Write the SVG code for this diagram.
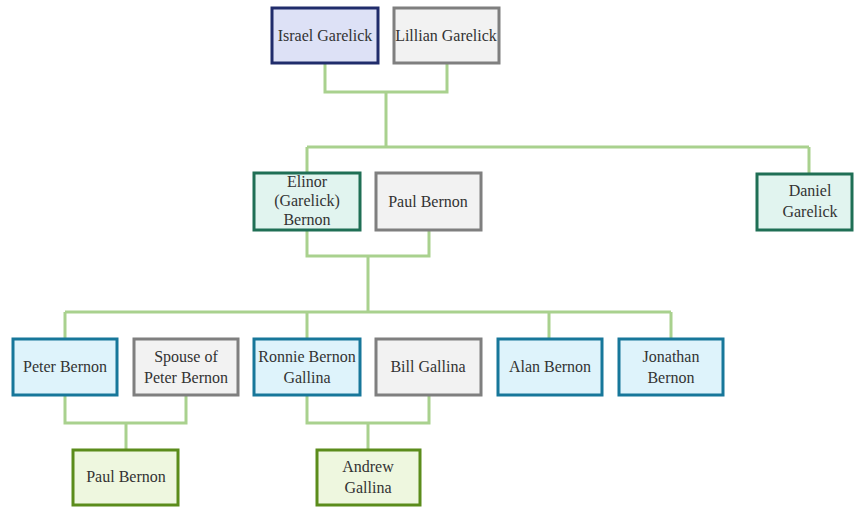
<svg xmlns="http://www.w3.org/2000/svg" width="855" height="508" viewBox="0 0 855 508">
<style>
rect{stroke-width:3}
.navy{fill:#dde1f6;stroke:#202c6b}
.grey{fill:#f2f2f2;stroke:#7f7f7f}
.teal{fill:#e1f4ef;stroke:#1f6f55}
.blue{fill:#def3fb;stroke:#17779a}
.green{fill:#eef7df;stroke:#5b8c1b}
text{font-family:"Liberation Serif","Times New Roman",serif;font-size:16px;fill:#333;text-anchor:middle}
.c{fill:none;stroke:#a9d18e;stroke-width:3}
</style>
<rect width="855" height="508" fill="#fff"/>
<g id="connectors" class="c">
<path d="M325 64V92H447V64M386 92V147M307 147H809M307 147V172M809 147V174"/>
<path d="M307 230V256H429V230M368 256V312M65 312H671M65 312V338M307 312V338M549 312V338M671 312V338"/>
<path d="M65 396V423H186V396M126 423V449"/>
<path d="M307 396V423H429V396M368 423V449"/>
</g>
<g id="israel"><rect class="navy" x="272" y="8" width="106" height="55"/><text x="325" y="41">Israel Garelick</text></g>
<g id="lillian"><rect class="grey" x="394" y="8" width="105" height="55"/><text x="446" y="41">Lillian Garelick</text></g>
<g id="elinor"><rect class="teal" x="254" y="173" width="106" height="57"/><text x="307" y="187">Elinor</text><text x="307" y="206">(Garelick)</text><text x="307" y="225">Bernon</text></g>
<g id="paul"><rect class="grey" x="376" y="173" width="105" height="57"/><text x="428" y="207">Paul Bernon</text></g>
<g id="daniel"><rect class="teal" x="757" y="174" width="95" height="56"/><text x="810" y="196">Daniel</text><text x="810" y="217">Garelick</text></g>
<g id="peter"><rect class="blue" x="13" y="339" width="104" height="56"/><text x="65" y="372">Peter Bernon</text></g>
<g id="spouse"><rect class="grey" x="134" y="339" width="104" height="56"/><text x="186" y="362">Spouse of</text><text x="186" y="383">Peter Bernon</text></g>
<g id="ronnie"><rect class="blue" x="254" y="339" width="106" height="56"/><text x="307" y="362">Ronnie Bernon</text><text x="307" y="383">Gallina</text></g>
<g id="bill"><rect class="grey" x="376" y="339" width="105" height="56"/><text x="428" y="372">Bill Gallina</text></g>
<g id="alan"><rect class="blue" x="498" y="339" width="104" height="56"/><text x="550" y="372">Alan Bernon</text></g>
<g id="jonathan"><rect class="blue" x="619" y="339" width="104" height="56"/><text x="671" y="362">Jonathan</text><text x="671" y="383">Bernon</text></g>
<g id="paul-jr"><rect class="green" x="73" y="450" width="105" height="55"/><text x="126" y="482">Paul Bernon</text></g>
<g id="andrew"><rect class="green" x="317" y="450" width="103" height="55"/><text x="368" y="472">Andrew</text><text x="368" y="493">Gallina</text></g>
</svg>
